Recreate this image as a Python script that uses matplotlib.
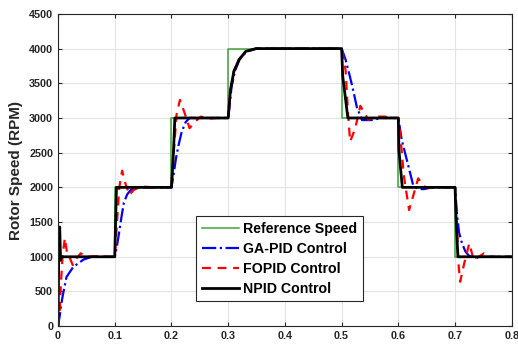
import numpy as np
import matplotlib.pyplot as plt

plt.switch_backend('Agg')
plt.rcParams['font.family'] = ['Liberation Sans', 'DejaVu Sans']

# Reference speed steps
ref_t = [0.0, 0.1, 0.2, 0.3, 0.5, 0.6, 0.7, 0.8]
ref_rpm = [1000, 2000, 3000, 4000, 3000, 2000, 1000, 1000]

# GA-PID response
ga_t = [0.0, 0.003, 0.006, 0.009, 0.015, 0.027, 0.045, 0.06, 0.1,
        0.104, 0.1075, 0.112, 0.116, 0.122, 0.128, 0.137, 0.2,
        0.204, 0.208, 0.212, 0.218, 0.225, 0.232, 0.3,
        0.302, 0.306, 0.312, 0.32, 0.332, 0.35, 0.5,
        0.507, 0.513, 0.519, 0.527, 0.536, 0.553, 0.57, 0.6,
        0.606, 0.615, 0.621, 0.626, 0.635, 0.645, 0.66, 0.7,
        0.703, 0.707, 0.712, 0.718, 0.725, 0.735, 0.75, 0.8]
ga_rpm = [0, 150, 330, 470, 710, 855, 960, 1000, 1000,
          1160, 1340, 1580, 1775, 1900, 1960, 2000, 2000,
          2200, 2420, 2588, 2800, 2940, 3000, 3000,
          3150, 3450, 3680, 3840, 3955, 4000, 4000,
          3840, 3650, 3450, 3150, 2970, 2970, 3000, 3000,
          2684, 2395, 2200, 2035, 1975, 1975, 2000, 2000,
          1650, 1350, 1200, 1080, 1010, 990, 1000, 1000]

# FOPID response
fo_t = [0.0, 0.003, 0.005, 0.008, 0.012, 0.016, 0.02, 0.026, 0.033, 0.04, 0.05, 0.07, 0.09, 0.1,
        0.104, 0.108, 0.113, 0.119, 0.126, 0.133, 0.14, 0.15, 0.17, 0.2,
        0.204, 0.209, 0.215, 0.222, 0.232, 0.242, 0.252, 0.265, 0.28, 0.3,
        0.304, 0.31, 0.32, 0.332, 0.35, 0.5,
        0.507, 0.511, 0.515, 0.524, 0.533, 0.547, 0.56, 0.576, 0.59, 0.6,
        0.604, 0.61, 0.619, 0.627, 0.635, 0.643, 0.65, 0.665, 0.68, 0.7,
        0.703, 0.706, 0.709, 0.716, 0.725, 0.733, 0.742, 0.751, 0.765, 0.8]
fo_rpm = [0, 200, 600, 1000, 1270, 1050, 1000, 880, 980, 1050, 1000, 1010, 1000, 1000,
          1500, 2000, 2240, 2050, 1890, 1960, 1990, 2010, 2000, 2000,
          2500, 3050, 3261, 3100, 2853, 2950, 3020, 2990, 3000, 3000,
          3400, 3680, 3850, 3960, 4000, 4000,
          3690, 3100, 2660, 2850, 3175, 2975, 3020, 3020, 3000, 3000,
          2700, 2150, 1674, 1900, 2130, 2040, 1990, 2010, 2000, 2000,
          1500, 900, 640, 900, 1193, 952, 1000, 1050, 1000, 1000]

# NPID response
np_t = [0.0, 0.0015, 0.003, 0.0045, 0.006, 0.1, 0.1015, 0.103, 0.2, 0.2035, 0.206,
        0.3, 0.304, 0.31, 0.319, 0.331, 0.349, 0.5, 0.502, 0.511,
        0.6, 0.601, 0.607, 0.7, 0.702, 0.705, 0.8]
np_rpm = [0, 1200, 1430, 950, 1000, 1000, 1500, 2000, 2000, 2500, 3000,
          3000, 3405, 3670, 3840, 3960, 4000, 4000, 3600, 3000,
          3000, 2540, 2000, 2000, 1500, 1000, 1000]

fig = plt.figure(figsize=(5.18, 3.47), dpi=100)
ax = fig.add_axes([0.112, 0.06, 0.876, 0.9])

ax.step(ref_t, ref_rpm, where='post', color='#3aa53a', linewidth=1.1, label='Reference Speed')
ax.plot(ga_t, ga_rpm, color='#0000ff', linestyle='-.', linewidth=1.6, label='GA-PID Control')
ax.plot(fo_t, fo_rpm, color='#ff0000', linestyle=(0, (4, 3)), linewidth=1.6, label='FOPID Control')
ax.plot(np_t, np_rpm, color='black', linewidth=2.0, label='NPID Control')

ax.set_xlim(0, 0.8)
ax.set_ylim(0, 4500)
ax.set_xticks(np.arange(0, 0.81, 0.1))
ax.set_xticklabels(['0', '0.1', '0.2', '0.3', '0.4', '0.5', '0.6', '0.7', '0.8'])
ax.set_yticks(np.arange(0, 4501, 500))
ax.grid(True, color='#e3e3e3', linewidth=0.8)
ax.set_axisbelow(True)
ax.tick_params(direction='in', top=True, right=True, length=3, labelsize=7.8,
               labelcolor='#262626', color='#262626')
for lab in ax.get_xticklabels() + ax.get_yticklabels():
    lab.set_fontweight('bold')
for s in ax.spines.values():
    s.set_color('#262626')
    s.set_linewidth(0.8)

ax.set_ylabel('Rotor Speed (RPM)', fontsize=11, fontweight='bold', color='#262626', labelpad=4)

leg = ax.legend(loc='lower left', bbox_to_anchor=(0.305, 0.08), fancybox=False,
                edgecolor='#262626', framealpha=1, handlelength=2.6, handletextpad=0.3,
                labelspacing=0.42, borderpad=0.4, borderaxespad=0,
                prop={'weight': 'bold', 'size': 10.2})
leg.get_frame().set_linewidth(0.8)

fig.savefig('out.png', dpi=100)
